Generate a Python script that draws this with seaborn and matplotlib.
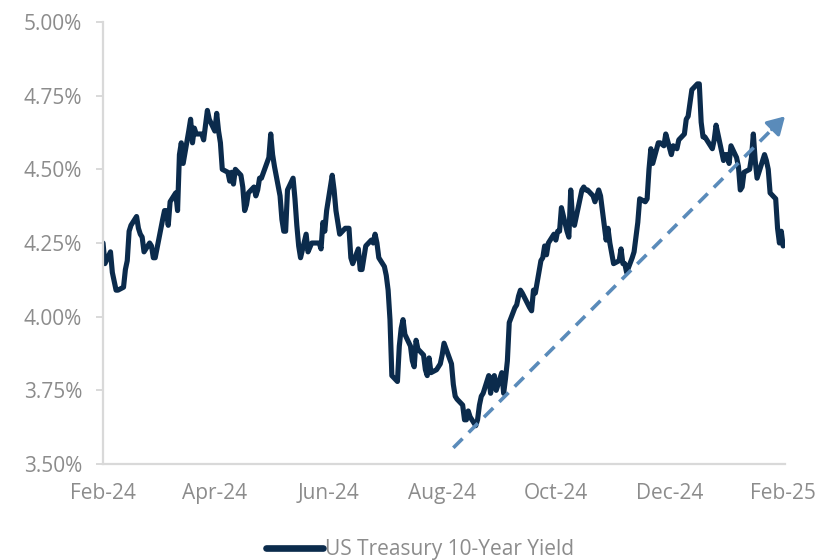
import matplotlib
matplotlib.use("Agg")
import matplotlib.pyplot as plt
import matplotlib.dates as mdates
from matplotlib.ticker import PercentFormatter, FixedLocator
import pandas as pd
import seaborn as sns

# Daily 10-year US Treasury yield, percent
dates_2024 = [
    "2024-02-29",
    "2024-03-01", "2024-03-04", "2024-03-05", "2024-03-06", "2024-03-07", "2024-03-08",
    "2024-03-11", "2024-03-12", "2024-03-13", "2024-03-14", "2024-03-15", "2024-03-18",
    "2024-03-19", "2024-03-20", "2024-03-21", "2024-03-22", "2024-03-25", "2024-03-26",
    "2024-03-27", "2024-03-28",
    "2024-04-01", "2024-04-02", "2024-04-03", "2024-04-04", "2024-04-05", "2024-04-08",
    "2024-04-09", "2024-04-10", "2024-04-11", "2024-04-12", "2024-04-15", "2024-04-16",
    "2024-04-17", "2024-04-18", "2024-04-19", "2024-04-22", "2024-04-23", "2024-04-24",
    "2024-04-25", "2024-04-26", "2024-04-29", "2024-04-30",
    "2024-05-01", "2024-05-02", "2024-05-03", "2024-05-06", "2024-05-07", "2024-05-08",
    "2024-05-09", "2024-05-10", "2024-05-13", "2024-05-14", "2024-05-15", "2024-05-16",
    "2024-05-17", "2024-05-20", "2024-05-21", "2024-05-22", "2024-05-23", "2024-05-24",
    "2024-05-28", "2024-05-29", "2024-05-30", "2024-05-31",
    "2024-06-03", "2024-06-04", "2024-06-05", "2024-06-06", "2024-06-07", "2024-06-10",
    "2024-06-11", "2024-06-12", "2024-06-13", "2024-06-14", "2024-06-17", "2024-06-18",
    "2024-06-20", "2024-06-21", "2024-06-24", "2024-06-25", "2024-06-26", "2024-06-27",
    "2024-06-28",
    "2024-07-01", "2024-07-02", "2024-07-03", "2024-07-05", "2024-07-08", "2024-07-09",
    "2024-07-10", "2024-07-11", "2024-07-12", "2024-07-15", "2024-07-16", "2024-07-17",
    "2024-07-18", "2024-07-19", "2024-07-22", "2024-07-23", "2024-07-24", "2024-07-25",
    "2024-07-26", "2024-07-29", "2024-07-30", "2024-07-31",
    "2024-08-01", "2024-08-02", "2024-08-05", "2024-08-06", "2024-08-07", "2024-08-08",
    "2024-08-09", "2024-08-12", "2024-08-13", "2024-08-14", "2024-08-15", "2024-08-16",
    "2024-08-19", "2024-08-20", "2024-08-21", "2024-08-22", "2024-08-23", "2024-08-26",
    "2024-08-27", "2024-08-28", "2024-08-29", "2024-08-30",
    "2024-09-03", "2024-09-04", "2024-09-05", "2024-09-06", "2024-09-09", "2024-09-10",
    "2024-09-11", "2024-09-12", "2024-09-13", "2024-09-16", "2024-09-17", "2024-09-18",
    "2024-09-19", "2024-09-20", "2024-09-23", "2024-09-24", "2024-09-25", "2024-09-26",
    "2024-09-27", "2024-09-30",
    "2024-10-01", "2024-10-02", "2024-10-03", "2024-10-04", "2024-10-07", "2024-10-08",
    "2024-10-09", "2024-10-10", "2024-10-11", "2024-10-15", "2024-10-16", "2024-10-17",
    "2024-10-18", "2024-10-21", "2024-10-22", "2024-10-23", "2024-10-24", "2024-10-25",
    "2024-10-28", "2024-10-29", "2024-10-30", "2024-10-31",
    "2024-11-01", "2024-11-04", "2024-11-05", "2024-11-06", "2024-11-07", "2024-11-08",
    "2024-11-12", "2024-11-13", "2024-11-14", "2024-11-15", "2024-11-18", "2024-11-19",
    "2024-11-20", "2024-11-21", "2024-11-22", "2024-11-25", "2024-11-26", "2024-11-27",
    "2024-11-29",
    "2024-12-02", "2024-12-03", "2024-12-04", "2024-12-05", "2024-12-06", "2024-12-09",
    "2024-12-10", "2024-12-11", "2024-12-12", "2024-12-13", "2024-12-16", "2024-12-17",
    "2024-12-18", "2024-12-19", "2024-12-20", "2024-12-23", "2024-12-24", "2024-12-26",
    "2024-12-27", "2024-12-30", "2024-12-31",
]
yields_2024 = [
    4.25,
    4.18, 4.22, 4.15, 4.12, 4.09, 4.09, 4.10, 4.16, 4.19, 4.29, 4.31, 4.34,
    4.30, 4.28, 4.27, 4.22, 4.25, 4.24, 4.20, 4.20,
    4.33, 4.36, 4.36, 4.31, 4.39, 4.42, 4.36, 4.55, 4.59, 4.52, 4.63, 4.67,
    4.59, 4.64, 4.62, 4.62, 4.60, 4.65, 4.70, 4.67, 4.63, 4.69,
    4.63, 4.59, 4.50, 4.49, 4.46, 4.49, 4.45, 4.50, 4.48, 4.44, 4.36, 4.38,
    4.42, 4.44, 4.41, 4.43, 4.47, 4.47, 4.54, 4.62, 4.55, 4.51,
    4.41, 4.33, 4.29, 4.29, 4.43, 4.47, 4.40, 4.31, 4.24, 4.20, 4.28, 4.22,
    4.25, 4.25, 4.25, 4.23, 4.32, 4.29, 4.36,
    4.48, 4.43, 4.36, 4.28, 4.30, 4.30, 4.30, 4.20, 4.18, 4.23, 4.16, 4.16,
    4.20, 4.24, 4.26, 4.25, 4.28, 4.25, 4.20, 4.17, 4.14, 4.09,
    3.99, 3.80, 3.78, 3.90, 3.96, 3.99, 3.94, 3.90, 3.85, 3.83, 3.92, 3.89,
    3.87, 3.82, 3.80, 3.86, 3.81, 3.82, 3.83, 3.84, 3.87, 3.91,
    3.84, 3.77, 3.73, 3.72, 3.70, 3.65, 3.65, 3.68, 3.66, 3.63, 3.65, 3.70,
    3.73, 3.74, 3.80, 3.74, 3.79, 3.80, 3.75, 3.81,
    3.74, 3.79, 3.85, 3.98, 4.03, 4.04, 4.07, 4.09, 4.08, 4.03, 4.02, 4.09,
    4.08, 4.19, 4.20, 4.24, 4.21, 4.25, 4.28, 4.26, 4.29, 4.29,
    4.37, 4.29, 4.27, 4.43, 4.33, 4.31, 4.43, 4.44, 4.43, 4.43, 4.41, 4.39,
    4.41, 4.43, 4.41, 4.26, 4.30, 4.25, 4.18,
    4.19, 4.23, 4.18, 4.18, 4.15, 4.20, 4.22, 4.27, 4.32, 4.40, 4.39, 4.40,
    4.50, 4.57, 4.52, 4.59, 4.59, 4.58, 4.62, 4.55, 4.58,
]
dates_2025 = [
    "2025-01-02", "2025-01-03", "2025-01-06", "2025-01-07", "2025-01-08", "2025-01-10",
    "2025-01-13", "2025-01-14", "2025-01-15", "2025-01-16", "2025-01-17", "2025-01-21",
    "2025-01-22", "2025-01-23", "2025-01-24", "2025-01-27", "2025-01-28", "2025-01-29",
    "2025-01-30", "2025-01-31",
    "2025-02-03", "2025-02-04", "2025-02-05", "2025-02-06", "2025-02-07", "2025-02-10",
    "2025-02-11", "2025-02-12", "2025-02-13", "2025-02-14", "2025-02-18", "2025-02-19",
    "2025-02-20", "2025-02-21", "2025-02-24", "2025-02-25", "2025-02-26", "2025-02-27",
    "2025-02-28",
]
yields_2025 = [
    4.57, 4.60, 4.62, 4.67, 4.68, 4.77, 4.79, 4.79, 4.66, 4.61, 4.61, 4.57,
    4.60, 4.65, 4.62, 4.53, 4.55, 4.55, 4.52, 4.58,
    4.54, 4.51, 4.43, 4.44, 4.49, 4.50, 4.54, 4.62, 4.53, 4.47, 4.55, 4.53,
    4.50, 4.42, 4.40, 4.30, 4.25, 4.29, 4.24,
]

series_label = "US Treasury 10-Year Yield"
y_ticks = [3.50, 3.75, 4.00, 4.25, 4.50, 4.75, 5.00]
x_ticks = ["2024-02-29", "2024-04-29", "2024-06-29", "2024-08-29",
           "2024-10-29", "2024-12-29", "2025-02-28"]

# Trend arrow: start and tip (date, yield)
trend_start = ("2024-09-04", 3.555)
trend_end = ("2025-03-01", 4.68)

line_color = "#0B2B4C"
arrow_color = "#5A8BBA"
text_gray = "#8C8C8C"
axis_gray = "#D9D9D9"

df = pd.DataFrame({
    "date": pd.to_datetime(dates_2024 + dates_2025),
    "yield": yields_2024 + yields_2025,
})

sns.set_theme(style="white")
plt.rcParams["font.family"] = ["Open Sans", "DejaVu Sans"]

fig = plt.figure(figsize=(8.19, 5.6), dpi=100)
ax = fig.add_axes([0.1258, 0.1714, 0.8327, 0.7893])

sns.lineplot(data=df, x="date", y="yield", ax=ax, color=line_color,
             linewidth=3.7, label=series_label)

# Dashed trend line with a solid arrowhead
t0 = mdates.date2num(pd.Timestamp(trend_start[0]))
t1 = mdates.date2num(pd.Timestamp(trend_end[0]))
y0, y1 = trend_start[1], trend_end[1]
frac = 0.96
xm = t0 + (t1 - t0) * frac
ym = y0 + (y1 - y0) * frac
ax.plot([t0, xm], [y0, ym], color=arrow_color, linewidth=2.6,
        dashes=(3.6, 2.4), solid_capstyle="butt", dash_capstyle="butt")
ax.annotate("", xy=(t1, y1), xytext=(xm, ym),
            arrowprops=dict(arrowstyle="-|>,head_length=0.65,head_width=0.38",
                            color=arrow_color, lw=2.4, mutation_scale=16,
                            shrinkA=0, shrinkB=0))

ax.set_xlim(pd.Timestamp("2024-02-29"), pd.Timestamp("2025-03-01"))
ax.set_ylim(3.50, 5.00)
ax.yaxis.set_major_locator(FixedLocator(y_ticks))
ax.yaxis.set_major_formatter(PercentFormatter(xmax=100, decimals=2))
ax.set_xticks(pd.to_datetime(x_ticks))
ax.xaxis.set_major_formatter(mdates.DateFormatter("%b-%y"))

ax.set_xlabel("")
ax.set_ylabel("")
for side in ("top", "right"):
    ax.spines[side].set_visible(False)
for side in ("left", "bottom"):
    ax.spines[side].set_color(axis_gray)
    ax.spines[side].set_linewidth(1.6)

ax.tick_params(axis="y", which="major", length=5, width=1.4, color=axis_gray,
               labelcolor=text_gray, labelsize=15, pad=10, left=True)
ax.tick_params(axis="x", which="major", length=0, labelcolor=text_gray,
               labelsize=15, pad=14)

handles, labels = ax.get_legend_handles_labels()
ax.get_legend().remove()
leg = fig.legend(handles, labels, loc="center", bbox_to_anchor=(0.513, 0.019),
                 frameon=False, fontsize=15, handlelength=2.7, handletextpad=0.1,
                 labelcolor=text_gray, borderpad=0.2)
for h in leg.legend_handles:
    h.set_linewidth(4.8)
    h.set_solid_capstyle("round")

fig.savefig("out.png", dpi=100)
